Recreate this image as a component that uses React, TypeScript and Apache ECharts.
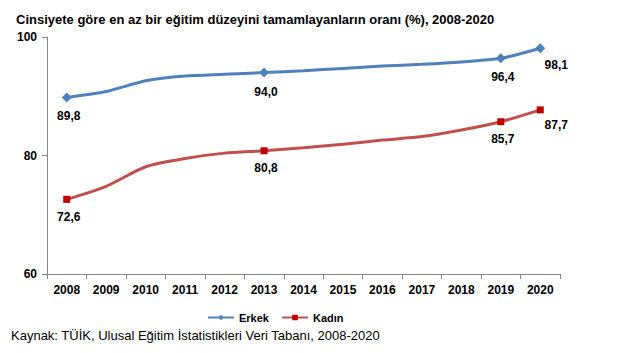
import React, { useEffect, useRef } from "react";
import * as echarts from "echarts";

const years = ["2008","2009","2010","2011","2012","2013","2014","2015","2016","2017","2018","2019","2020"];
const erkek = [89.8, 90.8, 92.6, 93.4, 93.7, 94.0, 94.3, 94.7, 95.1, 95.4, 95.8, 96.4, 98.1];
const kadin = [72.6, 74.8, 78.1, 79.5, 80.4, 80.8, 81.3, 81.9, 82.6, 83.2, 84.3, 85.7, 87.7];
const labeled = [0, 5, 11, 12];
const yTicks = [60, 80, 100];

const FONT = "Liberation Sans, Arial, sans-serif";

function buildData(vals: number[]) {
  return vals.map((v, i) => {
    if (!labeled.includes(i)) return { value: v, symbol: "none", label: { show: false } };
    const last = i === vals.length - 1;
    return {
      value: v,
      label: {
        show: true,
        position: "bottom",
        distance: 8,
        offset: last ? [16, -2] : [2, 0],
      },
    };
  });
}

export default function App() {
  const ref = useRef<HTMLDivElement>(null);
  useEffect(() => {
    const chart = echarts.init(ref.current!, undefined, { renderer: "svg" });
    const labelStyle = {
      color: "#000",
      fontFamily: FONT,
      fontSize: 12,
      fontWeight: "bold" as const,
      formatter: (p: any) => Number(p.value).toFixed(1).replace(".", ","),
    };
    chart.setOption({
      animation: false,
      backgroundColor: "#fff",
      title: {
        text: "Cinsiyete göre en az bir eğitim düzeyini tamamlayanların oranı (%), 2008-2020",
        left: 11,
        top: 8,
        textStyle: { fontFamily: FONT, fontSize: 13, fontWeight: "bold", color: "#000" },
      },
      graphic: [
        {
          type: "text",
          left: 11,
          top: 329,
          style: {
            text: "Kaynak: TÜİK, Ulusal Eğitim İstatistikleri Veri Tabanı, 2008-2020",
            fontFamily: FONT,
            fontSize: 13,
            fill: "#000",
          },
        },
      ],
      legend: {
        left: 202,
        top: 307,
        itemWidth: 26,
        itemHeight: 7,
        itemGap: 12,
        textStyle: { fontFamily: FONT, fontSize: 11, fontWeight: "bold", color: "#000" },
        data: ["Erkek", "Kadın"],
      },
      grid: { left: 47, right: 73, top: 37, bottom: 79 },
      xAxis: {
        type: "category",
        data: years,
        boundaryGap: true,
        axisLine: { lineStyle: { color: "#868686" } },
        axisTick: { show: true, interval: 0, alignWithLabel: false, length: 5, lineStyle: { color: "#868686" } },
        axisLabel: { interval: 0, color: "#000", fontFamily: FONT, fontSize: 12, fontWeight: "bold", margin: 10 },
      },
      yAxis: {
        type: "value",
        min: 60,
        max: 100,
        interval: 20,
        splitLine: { show: false },
        axisLine: { show: true, lineStyle: { color: "#868686" } },
        axisTick: { show: true, length: 5, lineStyle: { color: "#868686" } },
        axisLabel: {
          color: "#000",
          fontFamily: FONT,
          fontSize: 12,
          fontWeight: "bold",
          margin: 10,
          formatter: (v: number) => (yTicks.includes(v) ? String(v) : ""),
        },
      },
      series: [
        {
          name: "Erkek",
          type: "line",
          data: buildData(erkek),
          smooth: 0.25,
          symbol: "diamond",
          symbolSize: 10,
          lineStyle: { color: "#4F81BD", width: 3 },
          itemStyle: { color: "#4F81BD" },
          label: labelStyle,
        },
        {
          name: "Kadın",
          type: "line",
          data: buildData(kadin),
          smooth: 0.25,
          symbol: "rect",
          symbolSize: 7,
          lineStyle: { color: "#C0504D", width: 3 },
          itemStyle: { color: "#C00000" },
          label: labelStyle,
        },
      ],
    });
    return () => chart.dispose();
  }, []);
  return <div ref={ref} style={{ width: 633, height: 353, position: "absolute", left: 0, top: 0 }} />;
}
